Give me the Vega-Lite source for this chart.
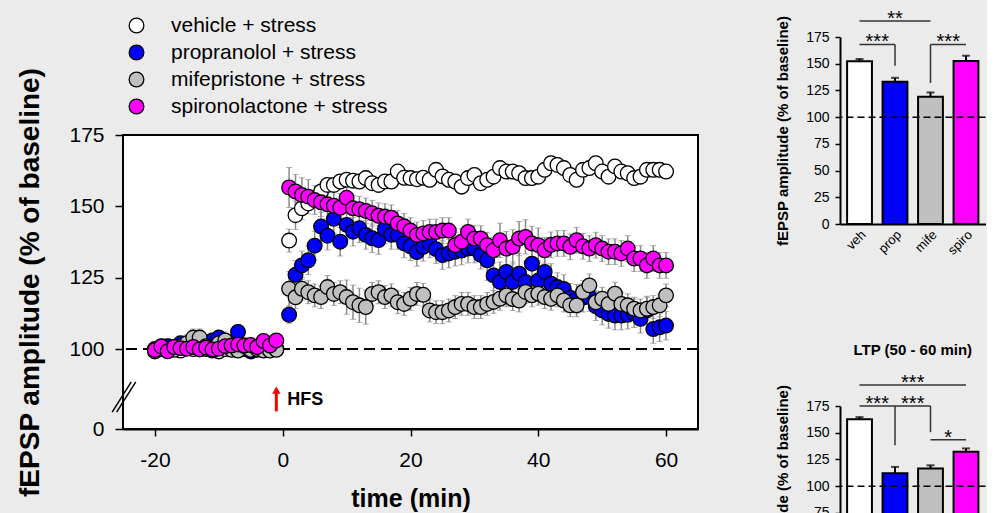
{
"$schema": "https://vega.github.io/schema/vega-lite/v6.json",
"background": "#ebebeb",
"padding": {"left": 16, "top": 8, "right": 0, "bottom": 0},
"config": {
  "font": "Liberation Sans",
  "view": {"stroke": null},
  "axis": {"domainColor": "black", "tickColor": "black", "labelColor": "black", "titleColor": "black", "grid": false},
  "title": {"color": "black"}
},
"datasets": {
"main": [
{"g":"veh","t":-20,"v":100,"e":1.5},{"g":"veh","t":-19,"v":101,"e":1.5},{"g":"veh","t":-18,"v":99,"e":1.5},{"g":"veh","t":-17,"v":100,"e":1.5},{"g":"veh","t":-16,"v":98,"e":1.5},{"g":"veh","t":-15,"v":101,"e":1.5},{"g":"veh","t":-14,"v":100,"e":1.5},{"g":"veh","t":-13,"v":102,"e":1.5},{"g":"veh","t":-12,"v":100,"e":1.5},{"g":"veh","t":-11,"v":99,"e":1.5},{"g":"veh","t":-10,"v":97,"e":1.5},{"g":"veh","t":-9,"v":100,"e":1.5},{"g":"veh","t":-8,"v":101,"e":1.5},{"g":"veh","t":-7,"v":99,"e":1.5},{"g":"veh","t":-6,"v":100,"e":1.5},{"g":"veh","t":-5,"v":101,"e":1.5},{"g":"veh","t":-4,"v":99,"e":1.5},{"g":"veh","t":-3,"v":100,"e":1.5},{"g":"veh","t":-2,"v":101,"e":1.5},{"g":"veh","t":-1,"v":100,"e":1.5},
{"g":"veh","t":1,"v":138,"e":4},{"g":"veh","t":2,"v":146.9,"e":5},{"g":"veh","t":3,"v":149.3,"e":4},{"g":"veh","t":4,"v":151,"e":2.5},{"g":"veh","t":5,"v":153,"e":2.5},{"g":"veh","t":6,"v":155.2,"e":2.5},{"g":"veh","t":7,"v":157.5,"e":2.5},{"g":"veh","t":8,"v":157.5,"e":2.5},{"g":"veh","t":9,"v":158.7,"e":2.5},{"g":"veh","t":10,"v":159.3,"e":2.5},
{"g":"veh","t":11,"v":159,"e":2.5},{"g":"veh","t":12,"v":158.7,"e":2.5},{"g":"veh","t":13,"v":159.9,"e":2.5},{"g":"veh","t":14,"v":158.1,"e":2.5},{"g":"veh","t":15,"v":157.5,"e":2.5},{"g":"veh","t":16,"v":158.7,"e":2.5},{"g":"veh","t":17,"v":158.7,"e":2.5},{"g":"veh","t":18,"v":162.2,"e":2.5},{"g":"veh","t":19,"v":160,"e":2.5},{"g":"veh","t":20,"v":159.9,"e":2.5},
{"g":"veh","t":21,"v":159.5,"e":2.5},{"g":"veh","t":22,"v":160,"e":2.5},{"g":"veh","t":23,"v":159.3,"e":2.5},{"g":"veh","t":24,"v":162.8,"e":2.5},{"g":"veh","t":25,"v":160.5,"e":2.5},{"g":"veh","t":26,"v":159.3,"e":2.5},{"g":"veh","t":27,"v":158.7,"e":2.5},{"g":"veh","t":28,"v":156.9,"e":2.5},{"g":"veh","t":29,"v":159.9,"e":2.5},{"g":"veh","t":30,"v":161,"e":2.5},
{"g":"veh","t":31,"v":158.1,"e":2.5},{"g":"veh","t":32,"v":159.3,"e":2.5},{"g":"veh","t":33,"v":160.4,"e":2.5},{"g":"veh","t":34,"v":163.4,"e":2.5},{"g":"veh","t":35,"v":162.2,"e":2.5},{"g":"veh","t":36,"v":162.2,"e":2.5},{"g":"veh","t":37,"v":161.6,"e":2.5},{"g":"veh","t":38,"v":159.9,"e":2.5},{"g":"veh","t":39,"v":159.9,"e":2.5},{"g":"veh","t":40,"v":160.4,"e":2.5},
{"g":"veh","t":41,"v":162.8,"e":2.5},{"g":"veh","t":42,"v":165.1,"e":2.5},{"g":"veh","t":43,"v":164.5,"e":2.5},{"g":"veh","t":44,"v":163.4,"e":2.5},{"g":"veh","t":45,"v":161,"e":2.5},{"g":"veh","t":46,"v":159.3,"e":2.5},{"g":"veh","t":47,"v":162.8,"e":2.5},{"g":"veh","t":48,"v":163.4,"e":2.5},{"g":"veh","t":49,"v":165.1,"e":2.5},{"g":"veh","t":50,"v":162.2,"e":2.5},
{"g":"veh","t":51,"v":160.4,"e":2.5},{"g":"veh","t":52,"v":164,"e":2.5},{"g":"veh","t":53,"v":162.2,"e":2.5},{"g":"veh","t":54,"v":161.6,"e":2.5},{"g":"veh","t":55,"v":159.9,"e":2.5},{"g":"veh","t":56,"v":160.4,"e":2.5},{"g":"veh","t":57,"v":162.8,"e":2.5},{"g":"veh","t":58,"v":162.8,"e":2.5},{"g":"veh","t":59,"v":162.8,"e":2.5},{"g":"veh","t":60,"v":162.2,"e":2.5},
{"g":"prop","t":-20,"v":99,"e":2.5},{"g":"prop","t":-19,"v":100,"e":2.5},{"g":"prop","t":-18,"v":101,"e":2.5},{"g":"prop","t":-17,"v":100,"e":2.5},{"g":"prop","t":-16,"v":102,"e":2.5},{"g":"prop","t":-15,"v":101,"e":2.5},{"g":"prop","t":-14,"v":103,"e":2.5},{"g":"prop","t":-13,"v":102,"e":2.5},{"g":"prop","t":-12,"v":101,"e":2.5},{"g":"prop","t":-11,"v":103,"e":2.5},{"g":"prop","t":-10,"v":104,"e":2.5},{"g":"prop","t":-9,"v":102,"e":2.5},{"g":"prop","t":-8,"v":101,"e":2.5},{"g":"prop","t":-7,"v":106,"e":2.5},{"g":"prop","t":-6,"v":101,"e":2.5},{"g":"prop","t":-5,"v":97,"e":2.5},{"g":"prop","t":-4,"v":100,"e":2.5},{"g":"prop","t":-3,"v":99,"e":2.5},{"g":"prop","t":-2,"v":101,"e":2.5},{"g":"prop","t":-1,"v":100,"e":2.5},
{"g":"prop","t":1,"v":112,"e":3},{"g":"prop","t":2,"v":126,"e":5},{"g":"prop","t":3,"v":129.3,"e":5},{"g":"prop","t":4,"v":131.1,"e":5},{"g":"prop","t":5,"v":136.2,"e":5},{"g":"prop","t":6,"v":142.9,"e":5},{"g":"prop","t":7,"v":139.7,"e":5},{"g":"prop","t":8,"v":145.6,"e":5},{"g":"prop","t":9,"v":137.6,"e":5},{"g":"prop","t":10,"v":143.5,"e":5},
{"g":"prop","t":11,"v":141.1,"e":5},{"g":"prop","t":12,"v":142.3,"e":5},{"g":"prop","t":13,"v":140,"e":5},{"g":"prop","t":14,"v":138.8,"e":5},{"g":"prop","t":15,"v":138.2,"e":5},{"g":"prop","t":16,"v":142,"e":5},{"g":"prop","t":17,"v":140,"e":5},{"g":"prop","t":18,"v":140,"e":5},{"g":"prop","t":19,"v":137,"e":5},{"g":"prop","t":20,"v":136,"e":5},
{"g":"prop","t":21,"v":134,"e":5},{"g":"prop","t":22,"v":135.8,"e":5},{"g":"prop","t":23,"v":137,"e":5},{"g":"prop","t":24,"v":135,"e":5},{"g":"prop","t":25,"v":132.9,"e":5},{"g":"prop","t":26,"v":133.5,"e":5},{"g":"prop","t":27,"v":134.1,"e":5},{"g":"prop","t":28,"v":134.5,"e":5},{"g":"prop","t":29,"v":135.2,"e":5},{"g":"prop","t":30,"v":135.2,"e":5},
{"g":"prop","t":31,"v":133,"e":5},{"g":"prop","t":32,"v":131.1,"e":7},{"g":"prop","t":33,"v":125.8,"e":7},{"g":"prop","t":34,"v":123.5,"e":7},{"g":"prop","t":35,"v":127,"e":7},{"g":"prop","t":36,"v":123.5,"e":7},{"g":"prop","t":37,"v":126.4,"e":7},{"g":"prop","t":38,"v":123.5,"e":7},{"g":"prop","t":39,"v":129.9,"e":7},{"g":"prop","t":40,"v":124,"e":7},
{"g":"prop","t":41,"v":127,"e":7},{"g":"prop","t":42,"v":122.9,"e":7},{"g":"prop","t":43,"v":121.7,"e":5},{"g":"prop","t":44,"v":121,"e":5},{"g":"prop","t":45,"v":118,"e":5},{"g":"prop","t":46,"v":117.6,"e":5},{"g":"prop","t":47,"v":118,"e":5},{"g":"prop","t":48,"v":118.2,"e":5},{"g":"prop","t":49,"v":115,"e":5},{"g":"prop","t":50,"v":113.5,"e":5},
{"g":"prop","t":51,"v":112.3,"e":5},{"g":"prop","t":52,"v":111.7,"e":5},{"g":"prop","t":53,"v":111.7,"e":5},{"g":"prop","t":54,"v":112,"e":5},{"g":"prop","t":55,"v":112.5,"e":5},{"g":"prop","t":56,"v":110.6,"e":5},{"g":"prop","t":57,"v":113.5,"e":5},{"g":"prop","t":58,"v":107,"e":5},{"g":"prop","t":59,"v":107.6,"e":5},{"g":"prop","t":60,"v":108.2,"e":5},
{"g":"mife","t":-20,"v":97,"e":3},{"g":"mife","t":-19,"v":100,"e":3},{"g":"mife","t":-18,"v":98,"e":3},{"g":"mife","t":-17,"v":99,"e":3},{"g":"mife","t":-16,"v":101,"e":3},{"g":"mife","t":-15,"v":102,"e":3},{"g":"mife","t":-14,"v":104,"e":3},{"g":"mife","t":-13,"v":104,"e":3},{"g":"mife","t":-12,"v":101,"e":3},{"g":"mife","t":-11,"v":98,"e":3},{"g":"mife","t":-10,"v":102,"e":3},{"g":"mife","t":-9,"v":103,"e":3},{"g":"mife","t":-8,"v":99,"e":3},{"g":"mife","t":-7,"v":98,"e":3},{"g":"mife","t":-6,"v":101,"e":3},{"g":"mife","t":-5,"v":99,"e":3},{"g":"mife","t":-4,"v":100,"e":3},{"g":"mife","t":-3,"v":98,"e":3},{"g":"mife","t":-2,"v":98,"e":3},{"g":"mife","t":-1,"v":99,"e":3},
{"g":"mife","t":1,"v":121.1,"e":6},{"g":"mife","t":2,"v":118.1,"e":4},{"g":"mife","t":3,"v":121.1,"e":4},{"g":"mife","t":4,"v":119.9,"e":4},{"g":"mife","t":5,"v":118.8,"e":4},{"g":"mife","t":6,"v":118.2,"e":4},{"g":"mife","t":7,"v":121.7,"e":4},{"g":"mife","t":8,"v":119.3,"e":4},{"g":"mife","t":9,"v":119.9,"e":4},{"g":"mife","t":10,"v":118.2,"e":6},
{"g":"mife","t":11,"v":116.4,"e":6},{"g":"mife","t":12,"v":115.3,"e":6},{"g":"mife","t":13,"v":114.7,"e":6},{"g":"mife","t":14,"v":119.3,"e":4},{"g":"mife","t":15,"v":119.9,"e":4},{"g":"mife","t":16,"v":118.2,"e":4},{"g":"mife","t":17,"v":118.8,"e":4},{"g":"mife","t":18,"v":116.4,"e":4},{"g":"mife","t":19,"v":115.8,"e":4},{"g":"mife","t":20,"v":117.6,"e":4},
{"g":"mife","t":21,"v":119.3,"e":4},{"g":"mife","t":22,"v":119,"e":4},{"g":"mife","t":23,"v":113.5,"e":4},{"g":"mife","t":24,"v":112.9,"e":4},{"g":"mife","t":25,"v":112.9,"e":4},{"g":"mife","t":26,"v":113.5,"e":4},{"g":"mife","t":27,"v":114.7,"e":4},{"g":"mife","t":28,"v":115.8,"e":4},{"g":"mife","t":29,"v":115.8,"e":4},{"g":"mife","t":30,"v":114.7,"e":4},
{"g":"mife","t":31,"v":114.7,"e":4},{"g":"mife","t":32,"v":115.8,"e":4},{"g":"mife","t":33,"v":116.5,"e":4},{"g":"mife","t":34,"v":117.6,"e":4},{"g":"mife","t":35,"v":118.8,"e":4},{"g":"mife","t":36,"v":117.5,"e":4},{"g":"mife","t":37,"v":117,"e":4},{"g":"mife","t":38,"v":120,"e":4},{"g":"mife","t":39,"v":118.8,"e":4},{"g":"mife","t":40,"v":119.4,"e":4},
{"g":"mife","t":41,"v":118.2,"e":4},{"g":"mife","t":42,"v":117.6,"e":4},{"g":"mife","t":43,"v":118.8,"e":4},{"g":"mife","t":44,"v":117,"e":4},{"g":"mife","t":45,"v":115.3,"e":4},{"g":"mife","t":46,"v":115.3,"e":4},{"g":"mife","t":47,"v":120,"e":4},{"g":"mife","t":48,"v":122.3,"e":4},{"g":"mife","t":49,"v":116.4,"e":4},{"g":"mife","t":50,"v":117.6,"e":4},
{"g":"mife","t":51,"v":115.8,"e":4},{"g":"mife","t":52,"v":119.4,"e":4},{"g":"mife","t":53,"v":115.8,"e":4},{"g":"mife","t":54,"v":115.3,"e":4},{"g":"mife","t":55,"v":114.1,"e":4},{"g":"mife","t":56,"v":113.5,"e":4},{"g":"mife","t":57,"v":114.1,"e":4},{"g":"mife","t":58,"v":114.7,"e":4},{"g":"mife","t":59,"v":115.3,"e":4},{"g":"mife","t":60,"v":118.8,"e":4},
{"g":"spiro","t":-20,"v":98.8,"e":2},{"g":"spiro","t":-19,"v":100.9,"e":2},{"g":"spiro","t":-18,"v":97.2,"e":2},{"g":"spiro","t":-17,"v":100.7,"e":2},{"g":"spiro","t":-16,"v":100.3,"e":2},{"g":"spiro","t":-15,"v":100.1,"e":2},{"g":"spiro","t":-14,"v":100.7,"e":2},{"g":"spiro","t":-13,"v":99.5,"e":2},{"g":"spiro","t":-12,"v":100.5,"e":2},{"g":"spiro","t":-11,"v":99.5,"e":2},{"g":"spiro","t":-10,"v":100.1,"e":2},{"g":"spiro","t":-9,"v":101,"e":2},{"g":"spiro","t":-8,"v":101.2,"e":2},{"g":"spiro","t":-7,"v":101.6,"e":2},{"g":"spiro","t":-6,"v":101.2,"e":2},{"g":"spiro","t":-5,"v":101.4,"e":2},{"g":"spiro","t":-4,"v":100.7,"e":2},{"g":"spiro","t":-3,"v":102.8,"e":2},{"g":"spiro","t":-2,"v":101.2,"e":2},{"g":"spiro","t":-1,"v":103,"e":2},
{"g":"spiro","t":1,"v":156.6,"e":7},{"g":"spiro","t":2,"v":155.2,"e":6},{"g":"spiro","t":3,"v":154,"e":6},{"g":"spiro","t":4,"v":153.4,"e":6},{"g":"spiro","t":5,"v":152.2,"e":5},{"g":"spiro","t":6,"v":151.4,"e":5},{"g":"spiro","t":7,"v":150.7,"e":5},{"g":"spiro","t":8,"v":150.2,"e":5},{"g":"spiro","t":9,"v":149.5,"e":5},{"g":"spiro","t":10,"v":153,"e":4.5},
{"g":"spiro","t":11,"v":149.3,"e":4.5},{"g":"spiro","t":12,"v":149,"e":4.5},{"g":"spiro","t":13,"v":148.4,"e":4.5},{"g":"spiro","t":14,"v":147.6,"e":4.5},{"g":"spiro","t":15,"v":146.7,"e":4.5},{"g":"spiro","t":16,"v":146.4,"e":4.5},{"g":"spiro","t":17,"v":146,"e":4.5},{"g":"spiro","t":18,"v":144,"e":4.5},{"g":"spiro","t":19,"v":143,"e":4.5},{"g":"spiro","t":20,"v":141.5,"e":4.5},
{"g":"spiro","t":21,"v":140,"e":4.5},{"g":"spiro","t":22,"v":140.5,"e":4.5},{"g":"spiro","t":23,"v":141,"e":4.5},{"g":"spiro","t":24,"v":141,"e":4.5},{"g":"spiro","t":25,"v":141.5,"e":4.5},{"g":"spiro","t":26,"v":141.5,"e":4.5},{"g":"spiro","t":27,"v":136.4,"e":4.5},{"g":"spiro","t":28,"v":137.6,"e":4.5},{"g":"spiro","t":29,"v":141,"e":4.5},{"g":"spiro","t":30,"v":138.7,"e":4.5},
{"g":"spiro","t":31,"v":138.7,"e":4.5},{"g":"spiro","t":32,"v":136.4,"e":4.5},{"g":"spiro","t":33,"v":134.6,"e":4.5},{"g":"spiro","t":34,"v":138.1,"e":6},{"g":"spiro","t":35,"v":135.2,"e":6},{"g":"spiro","t":36,"v":135.8,"e":6},{"g":"spiro","t":37,"v":138.7,"e":6},{"g":"spiro","t":38,"v":139.3,"e":6},{"g":"spiro","t":39,"v":137,"e":6},{"g":"spiro","t":40,"v":136.4,"e":6},
{"g":"spiro","t":41,"v":134.6,"e":4.5},{"g":"spiro","t":42,"v":136.5,"e":4.5},{"g":"spiro","t":43,"v":137,"e":4.5},{"g":"spiro","t":44,"v":137,"e":4.5},{"g":"spiro","t":45,"v":135.8,"e":4.5},{"g":"spiro","t":46,"v":138.1,"e":4.5},{"g":"spiro","t":47,"v":136,"e":4.5},{"g":"spiro","t":48,"v":135.2,"e":4.5},{"g":"spiro","t":49,"v":136.4,"e":4.5},{"g":"spiro","t":50,"v":135.2,"e":4.5},
{"g":"spiro","t":51,"v":134.1,"e":4.5},{"g":"spiro","t":52,"v":134.1,"e":4.5},{"g":"spiro","t":53,"v":133.5,"e":4.5},{"g":"spiro","t":54,"v":135.2,"e":4.5},{"g":"spiro","t":55,"v":131.7,"e":4.5},{"g":"spiro","t":56,"v":131.7,"e":4.5},{"g":"spiro","t":57,"v":129.3,"e":4.5},{"g":"spiro","t":58,"v":131.7,"e":4.5},{"g":"spiro","t":59,"v":129.3,"e":4.5},{"g":"spiro","t":60,"v":129.3,"e":4.5}
],
"frame": [{"t":-25,"t2":65,"v":0,"v2":175}],
"brk": [{"t":-26.7,"t2":-23.7,"v":21,"v2":59},{"t":-26.0,"t2":-23.0,"v":21,"v2":59}],
"hfs": [{"t":-1,"v":22,"v2":46,"tip":48.5,"lt":0.7,"lv":36,"label":"HFS"}],
"bars1": [{"c":"veh","v":152.4,"hi":154.4},{"c":"prop","v":133.2,"hi":136.8},{"c":"mife","v":119.1,"hi":123.1},{"c":"spiro","v":152.5,"hi":157.5}],
"h1": [{"c":"veh","c2":"mife","v":190},{"c":"veh","c2":"prop","v":168},{"c":"mife","c2":"spiro","v":168}],
"v1": [{"c":"prop","v":168,"v2":148},{"c":"mife","v":168,"v2":132}],
"s1": [{"c":"prop","v":190,"s":"**","p":"c"},{"c":"veh","v":168,"s":"***","p":"m"},{"c":"mife","v":168,"s":"***","p":"m"}],
"bars2": [{"c":"veh","v":162.6,"hi":164.6},{"c":"prop","v":112,"hi":118},{"c":"mife","v":116.5,"hi":119.5},{"c":"spiro","v":132.3,"hi":135.3}],
"h2": [{"c":"veh","c2":"spiro","v":194.7},{"c":"veh","c2":"mife","v":175},{"c":"mife","c2":"spiro","v":143.3}],
"v2": [{"c":"prop","v":175,"v2":138.3},{"c":"mife","v":175,"v2":150.5}],
"s2": [{"c":"prop","v":194.7,"s":"***","p":"m"},{"c":"veh","v":175,"s":"***","p":"m"},{"c":"prop","v":175,"s":"***","p":"m"},{"c":"mife","v":143.3,"s":"*","p":"m"}]
},
"resolve": {"scale": {"x": "independent", "y": "independent", "fill": "independent"}, "legend": {"fill": "independent"}},
"spacing": 76,
"hconcat": [
{
  "width": 575, "height": 392,
  "layer": [
    {"data": {"name": "frame"}, "mark": {"type": "rect", "fill": "white", "stroke": "black", "strokeWidth": 2},
     "encoding": {
       "x": {"field": "t", "type": "quantitative",
             "scale": {"domain": [-25, 65], "nice": false, "zero": false},
             "axis": {"values": [-20, 0, 20, 40, 60], "labelExpr": "datum.value", "title": "time (min)", "titleFontSize": 25, "titleFontWeight": "bold", "labelFontSize": 21, "tickSize": 7, "tickWidth": 1.5, "domainWidth": 2, "labelPadding": 13, "titlePadding": 16, "labelFlush": false}},
       "x2": {"field": "t2"},
       "y": {"field": "v", "type": "quantitative",
             "scale": {"domain": [0, 100, 175], "range": [392, 312, 98], "nice": false, "zero": false},
             "axis": {"values": [0, 100, 125, 150, 175], "title": "fEPSP amplitude (% of baseline)", "titleFontSize": 28, "titleFontWeight": "bold", "labelFontSize": 21, "tickSize": 8, "tickWidth": 1.5, "domainWidth": 2, "labelPadding": 11, "titlePadding": 24}},
       "y2": {"field": "v2"}
     }},
    {"data": {"values": [{}]}, "mark": {"type": "rule", "strokeDash": [11, 6], "strokeWidth": 2, "color": "black"},
     "encoding": {"y": {"datum": 100, "type": "quantitative", "title": "fEPSP amplitude (% of baseline)"}}},
    {"data": {"name": "main"},
     "mark": {"type": "errorbar", "color": "#8a8a8a", "ticks": {"size": 6, "color": "#8a8a8a"}, "rule": {"strokeWidth": 1.5}},
     "encoding": {"x": {"field": "t", "type": "quantitative", "title": "time (min)"}, "y": {"field": "v", "type": "quantitative", "title": "fEPSP amplitude (% of baseline)"}, "yError": {"field": "e"}}},
    {"data": {"name": "main"},
     "mark": {"type": "circle", "size": 215, "stroke": "black", "strokeWidth": 1.3, "opacity": 1},
     "encoding": {
       "x": {"field": "t", "type": "quantitative", "title": "time (min)"},
       "y": {"field": "v", "type": "quantitative", "title": "fEPSP amplitude (% of baseline)"},
       "fill": {"field": "g", "type": "nominal",
             "scale": {"domain": ["veh", "prop", "mife", "spiro"], "range": ["#ffffff", "#0000ff", "#c0c0c0", "#ff00ff"]},
             "legend": {"orient": "none", "legendX": 3, "legendY": -22, "title": null, "labelFontSize": 21, "labelColor": "black", "labelLimit": 400, "rowPadding": 5, "labelOffset": 24, "symbolSize": 215, "symbolStrokeWidth": 1.3, "symbolStrokeColor": "black", "symbolType": "circle", "padding": 0,
               "labelExpr": "{'veh': 'vehicle + stress', 'prop': 'propranolol + stress', 'mife': 'mifepristone + stress', 'spiro': 'spironolactone + stress'}[datum.label]"}}
     }},
    {"data": {"name": "brk"}, "mark": {"type": "rule", "color": "black", "strokeWidth": 1.5},
     "encoding": {"x": {"field": "t", "type": "quantitative", "title": "time (min)"}, "x2": {"field": "t2"}, "y": {"field": "v", "type": "quantitative", "title": "fEPSP amplitude (% of baseline)"}, "y2": {"field": "v2"}}},
    {"data": {"name": "hfs"}, "mark": {"type": "rule", "color": "#ff0000", "strokeWidth": 3},
     "encoding": {"x": {"field": "t", "type": "quantitative", "title": "time (min)"}, "y": {"field": "v", "type": "quantitative", "title": "fEPSP amplitude (% of baseline)"}, "y2": {"field": "v2"}}},
    {"data": {"name": "hfs"}, "mark": {"type": "point", "shape": "triangle-up", "filled": true, "color": "#ff0000", "size": 70, "opacity": 1},
     "encoding": {"x": {"field": "t", "type": "quantitative", "title": "time (min)"}, "y": {"field": "tip", "type": "quantitative", "title": "fEPSP amplitude (% of baseline)"}}},
    {"data": {"name": "hfs"}, "mark": {"type": "text", "align": "left", "baseline": "middle", "fontSize": 18, "fontWeight": "bold", "color": "black"},
     "encoding": {"x": {"field": "lt", "type": "quantitative", "title": "time (min)"}, "y": {"field": "lv", "type": "quantitative", "title": "fEPSP amplitude (% of baseline)"}, "text": {"field": "label"}}}
  ]
},
{
  "spacing": 84,
  "resolve": {"scale": {"x": "independent", "y": "independent", "fill": "independent"}},
  "vconcat": [
    {
      "width": 145.5, "height": 187,
      "layer": [
        {"data": {"name": "bars1"}, "mark": {"type": "rule", "color": "black", "strokeWidth": 2},
         "encoding": {
           "x": {"field": "c", "type": "nominal", "scale": {"domain": ["veh", "prop", "mife", "spiro"], "paddingInner": 0.3, "paddingOuter": 0.2}, "axis": {"title": null, "labelAngle": -45, "labelFontSize": 13, "ticks": false, "domainWidth": 2, "labelPadding": 4}},
           "y": {"field": "v", "type": "quantitative", "scale": {"domain": [0, 175], "nice": false, "zero": true}, "axis": {"values": [0, 25, 50, 75, 100, 125, 150, 175], "title": "fEPSP amplitude (% of baseline)", "titleFontSize": 15, "titleFontWeight": "bold", "labelFontSize": 14, "tickSize": 5, "tickWidth": 1.5, "domainWidth": 2, "labelPadding": 6, "titlePadding": 15, "labelOverlap": false}},
           "y2": {"field": "hi"}}},
        {"data": {"name": "bars1"}, "mark": {"type": "tick", "color": "black", "size": 8, "thickness": 2},
         "encoding": {
           "x": {"field": "c", "type": "nominal", "scale": {"domain": ["veh", "prop", "mife", "spiro"], "paddingInner": 0.3, "paddingOuter": 0.2}, "axis": {"title": null, "labelAngle": -45, "labelFontSize": 13, "ticks": false, "domainWidth": 2, "labelPadding": 4}},
           "y": {"field": "hi", "type": "quantitative", "scale": {"domain": [0, 175], "nice": false, "zero": true}, "axis": {"values": [0, 25, 50, 75, 100, 125, 150, 175], "title": "fEPSP amplitude (% of baseline)", "titleFontSize": 15, "titleFontWeight": "bold", "labelFontSize": 14, "tickSize": 5, "tickWidth": 1.5, "domainWidth": 2, "labelPadding": 6, "titlePadding": 15, "labelOverlap": false}}}},
        {"data": {"name": "bars1"}, "mark": {"type": "bar", "stroke": "black", "strokeWidth": 2},
         "encoding": {
           "x": {"field": "c", "type": "nominal", "scale": {"domain": ["veh", "prop", "mife", "spiro"], "paddingInner": 0.3, "paddingOuter": 0.2}, "axis": {"title": null, "labelAngle": -45, "labelFontSize": 13, "ticks": false, "domainWidth": 2, "labelPadding": 4}},
           "y": {"field": "v", "type": "quantitative", "scale": {"domain": [0, 175], "nice": false, "zero": true}, "axis": {"values": [0, 25, 50, 75, 100, 125, 150, 175], "title": "fEPSP amplitude (% of baseline)", "titleFontSize": 15, "titleFontWeight": "bold", "labelFontSize": 14, "tickSize": 5, "tickWidth": 1.5, "domainWidth": 2, "labelPadding": 6, "titlePadding": 15, "labelOverlap": false}},
           "fill": {"field": "c", "type": "nominal", "scale": {"domain": ["veh", "prop", "mife", "spiro"], "range": ["#ffffff", "#0000ff", "#c0c0c0", "#ff00ff"]}, "legend": null}
         }},
        {"data": {"values": [{}]}, "mark": {"type": "rule", "strokeDash": [7, 4], "strokeWidth": 1.5, "color": "black"},
         "encoding": {"y": {"datum": 100, "type": "quantitative", "scale": {"domain": [0, 175], "nice": false, "zero": true}, "axis": {"values": [0, 25, 50, 75, 100, 125, 150, 175], "title": "fEPSP amplitude (% of baseline)", "titleFontSize": 15, "titleFontWeight": "bold", "labelFontSize": 14, "tickSize": 5, "tickWidth": 1.5, "domainWidth": 2, "labelPadding": 6, "titlePadding": 15, "labelOverlap": false}}}},
        {"data": {"name": "h1"}, "mark": {"type": "rule", "color": "#333333", "strokeWidth": 1.5},
         "encoding": {
           "x": {"field": "c", "type": "nominal", "bandPosition": 0.5, "scale": {"domain": ["veh", "prop", "mife", "spiro"], "paddingInner": 0.3, "paddingOuter": 0.2}, "axis": {"title": null, "labelAngle": -45, "labelFontSize": 13, "ticks": false, "domainWidth": 2, "labelPadding": 4}},
           "x2": {"field": "c2", "bandPosition": 0.5},
           "y": {"field": "v", "type": "quantitative", "scale": {"domain": [0, 175], "nice": false, "zero": true}, "axis": {"values": [0, 25, 50, 75, 100, 125, 150, 175], "title": "fEPSP amplitude (% of baseline)", "titleFontSize": 15, "titleFontWeight": "bold", "labelFontSize": 14, "tickSize": 5, "tickWidth": 1.5, "domainWidth": 2, "labelPadding": 6, "titlePadding": 15, "labelOverlap": false}}}},
        {"data": {"name": "v1"}, "mark": {"type": "rule", "color": "#333333", "strokeWidth": 1.5},
         "encoding": {
           "x": {"field": "c", "type": "nominal", "bandPosition": 0.5, "scale": {"domain": ["veh", "prop", "mife", "spiro"], "paddingInner": 0.3, "paddingOuter": 0.2}, "axis": {"title": null, "labelAngle": -45, "labelFontSize": 13, "ticks": false, "domainWidth": 2, "labelPadding": 4}},
           "y": {"field": "v", "type": "quantitative", "scale": {"domain": [0, 175], "nice": false, "zero": true}, "axis": {"values": [0, 25, 50, 75, 100, 125, 150, 175], "title": "fEPSP amplitude (% of baseline)", "titleFontSize": 15, "titleFontWeight": "bold", "labelFontSize": 14, "tickSize": 5, "tickWidth": 1.5, "domainWidth": 2, "labelPadding": 6, "titlePadding": 15, "labelOverlap": false}},
           "y2": {"field": "v2"}}},
        {"data": {"name": "s1"}, "transform": [{"filter": "datum.p == 'm'"}], "mark": {"type": "text", "fontSize": 20, "baseline": "alphabetic", "dy": 4, "color": "black"},
         "encoding": {
           "x": {"field": "c", "type": "nominal", "bandPosition": 1.214, "scale": {"domain": ["veh", "prop", "mife", "spiro"], "paddingInner": 0.3, "paddingOuter": 0.2}, "axis": {"title": null, "labelAngle": -45, "labelFontSize": 13, "ticks": false, "domainWidth": 2, "labelPadding": 4}},
           "y": {"field": "v", "type": "quantitative", "scale": {"domain": [0, 175], "nice": false, "zero": true}, "axis": {"values": [0, 25, 50, 75, 100, 125, 150, 175], "title": "fEPSP amplitude (% of baseline)", "titleFontSize": 15, "titleFontWeight": "bold", "labelFontSize": 14, "tickSize": 5, "tickWidth": 1.5, "domainWidth": 2, "labelPadding": 6, "titlePadding": 15, "labelOverlap": false}},
           "text": {"field": "s"}}},
        {"data": {"name": "s1"}, "transform": [{"filter": "datum.p == 'c'"}], "mark": {"type": "text", "fontSize": 20, "baseline": "alphabetic", "dy": 4, "color": "black"},
         "encoding": {
           "x": {"field": "c", "type": "nominal", "bandPosition": 0.5, "scale": {"domain": ["veh", "prop", "mife", "spiro"], "paddingInner": 0.3, "paddingOuter": 0.2}, "axis": {"title": null, "labelAngle": -45, "labelFontSize": 13, "ticks": false, "domainWidth": 2, "labelPadding": 4}},
           "y": {"field": "v", "type": "quantitative", "scale": {"domain": [0, 175], "nice": false, "zero": true}, "axis": {"values": [0, 25, 50, 75, 100, 125, 150, 175], "title": "fEPSP amplitude (% of baseline)", "titleFontSize": 15, "titleFontWeight": "bold", "labelFontSize": 14, "tickSize": 5, "tickWidth": 1.5, "domainWidth": 2, "labelPadding": 6, "titlePadding": 15, "labelOverlap": false}},
           "text": {"field": "s"}}}
      ]
    },
    {
      "width": 145.5, "height": 187,
      "title": {"text": "LTP (50 - 60 min)", "fontSize": 15, "fontWeight": "bold", "color": "black", "offset": 15},
      "layer": [
        {"data": {"name": "bars2"}, "mark": {"type": "rule", "color": "black", "strokeWidth": 2},
         "encoding": {
           "x": {"field": "c", "type": "nominal", "scale": {"domain": ["veh", "prop", "mife", "spiro"], "paddingInner": 0.3, "paddingOuter": 0.2}, "axis": {"title": null, "labelAngle": -45, "labelFontSize": 13, "ticks": false, "domainWidth": 2, "labelPadding": 4}},
           "y": {"field": "v", "type": "quantitative", "scale": {"domain": [0, 175], "nice": false, "zero": true}, "axis": {"values": [0, 25, 50, 75, 100, 125, 150, 175], "title": "fEPSP amplitude (% of baseline)", "titleFontSize": 15, "titleFontWeight": "bold", "labelFontSize": 14, "tickSize": 5, "tickWidth": 1.5, "domainWidth": 2, "labelPadding": 6, "titlePadding": 15, "labelOverlap": false}},
           "y2": {"field": "hi"}}},
        {"data": {"name": "bars2"}, "mark": {"type": "tick", "color": "black", "size": 8, "thickness": 2},
         "encoding": {
           "x": {"field": "c", "type": "nominal", "scale": {"domain": ["veh", "prop", "mife", "spiro"], "paddingInner": 0.3, "paddingOuter": 0.2}, "axis": {"title": null, "labelAngle": -45, "labelFontSize": 13, "ticks": false, "domainWidth": 2, "labelPadding": 4}},
           "y": {"field": "hi", "type": "quantitative", "scale": {"domain": [0, 175], "nice": false, "zero": true}, "axis": {"values": [0, 25, 50, 75, 100, 125, 150, 175], "title": "fEPSP amplitude (% of baseline)", "titleFontSize": 15, "titleFontWeight": "bold", "labelFontSize": 14, "tickSize": 5, "tickWidth": 1.5, "domainWidth": 2, "labelPadding": 6, "titlePadding": 15, "labelOverlap": false}}}},
        {"data": {"name": "bars2"}, "mark": {"type": "bar", "stroke": "black", "strokeWidth": 2},
         "encoding": {
           "x": {"field": "c", "type": "nominal", "scale": {"domain": ["veh", "prop", "mife", "spiro"], "paddingInner": 0.3, "paddingOuter": 0.2}, "axis": {"title": null, "labelAngle": -45, "labelFontSize": 13, "ticks": false, "domainWidth": 2, "labelPadding": 4}},
           "y": {"field": "v", "type": "quantitative", "scale": {"domain": [0, 175], "nice": false, "zero": true}, "axis": {"values": [0, 25, 50, 75, 100, 125, 150, 175], "title": "fEPSP amplitude (% of baseline)", "titleFontSize": 15, "titleFontWeight": "bold", "labelFontSize": 14, "tickSize": 5, "tickWidth": 1.5, "domainWidth": 2, "labelPadding": 6, "titlePadding": 15, "labelOverlap": false}},
           "fill": {"field": "c", "type": "nominal", "scale": {"domain": ["veh", "prop", "mife", "spiro"], "range": ["#ffffff", "#0000ff", "#c0c0c0", "#ff00ff"]}, "legend": null}
         }},
        {"data": {"values": [{}]}, "mark": {"type": "rule", "strokeDash": [7, 4], "strokeWidth": 1.5, "color": "black"},
         "encoding": {"y": {"datum": 100, "type": "quantitative", "scale": {"domain": [0, 175], "nice": false, "zero": true}, "axis": {"values": [0, 25, 50, 75, 100, 125, 150, 175], "title": "fEPSP amplitude (% of baseline)", "titleFontSize": 15, "titleFontWeight": "bold", "labelFontSize": 14, "tickSize": 5, "tickWidth": 1.5, "domainWidth": 2, "labelPadding": 6, "titlePadding": 15, "labelOverlap": false}}}},
        {"data": {"name": "h2"}, "mark": {"type": "rule", "color": "#333333", "strokeWidth": 1.5},
         "encoding": {
           "x": {"field": "c", "type": "nominal", "bandPosition": 0.5, "scale": {"domain": ["veh", "prop", "mife", "spiro"], "paddingInner": 0.3, "paddingOuter": 0.2}, "axis": {"title": null, "labelAngle": -45, "labelFontSize": 13, "ticks": false, "domainWidth": 2, "labelPadding": 4}},
           "x2": {"field": "c2", "bandPosition": 0.5},
           "y": {"field": "v", "type": "quantitative", "scale": {"domain": [0, 175], "nice": false, "zero": true}, "axis": {"values": [0, 25, 50, 75, 100, 125, 150, 175], "title": "fEPSP amplitude (% of baseline)", "titleFontSize": 15, "titleFontWeight": "bold", "labelFontSize": 14, "tickSize": 5, "tickWidth": 1.5, "domainWidth": 2, "labelPadding": 6, "titlePadding": 15, "labelOverlap": false}}}},
        {"data": {"name": "v2"}, "mark": {"type": "rule", "color": "#333333", "strokeWidth": 1.5},
         "encoding": {
           "x": {"field": "c", "type": "nominal", "bandPosition": 0.5, "scale": {"domain": ["veh", "prop", "mife", "spiro"], "paddingInner": 0.3, "paddingOuter": 0.2}, "axis": {"title": null, "labelAngle": -45, "labelFontSize": 13, "ticks": false, "domainWidth": 2, "labelPadding": 4}},
           "y": {"field": "v", "type": "quantitative", "scale": {"domain": [0, 175], "nice": false, "zero": true}, "axis": {"values": [0, 25, 50, 75, 100, 125, 150, 175], "title": "fEPSP amplitude (% of baseline)", "titleFontSize": 15, "titleFontWeight": "bold", "labelFontSize": 14, "tickSize": 5, "tickWidth": 1.5, "domainWidth": 2, "labelPadding": 6, "titlePadding": 15, "labelOverlap": false}},
           "y2": {"field": "v2"}}},
        {"data": {"name": "s2"}, "mark": {"type": "text", "fontSize": 20, "baseline": "alphabetic", "dy": 4, "color": "black"},
         "encoding": {
           "x": {"field": "c", "type": "nominal", "bandPosition": 1.214, "scale": {"domain": ["veh", "prop", "mife", "spiro"], "paddingInner": 0.3, "paddingOuter": 0.2}, "axis": {"title": null, "labelAngle": -45, "labelFontSize": 13, "ticks": false, "domainWidth": 2, "labelPadding": 4}},
           "y": {"field": "v", "type": "quantitative", "scale": {"domain": [0, 175], "nice": false, "zero": true}, "axis": {"values": [0, 25, 50, 75, 100, 125, 150, 175], "title": "fEPSP amplitude (% of baseline)", "titleFontSize": 15, "titleFontWeight": "bold", "labelFontSize": 14, "tickSize": 5, "tickWidth": 1.5, "domainWidth": 2, "labelPadding": 6, "titlePadding": 15, "labelOverlap": false}},
           "text": {"field": "s"}}}
      ]
    }
  ]
}
]
}
